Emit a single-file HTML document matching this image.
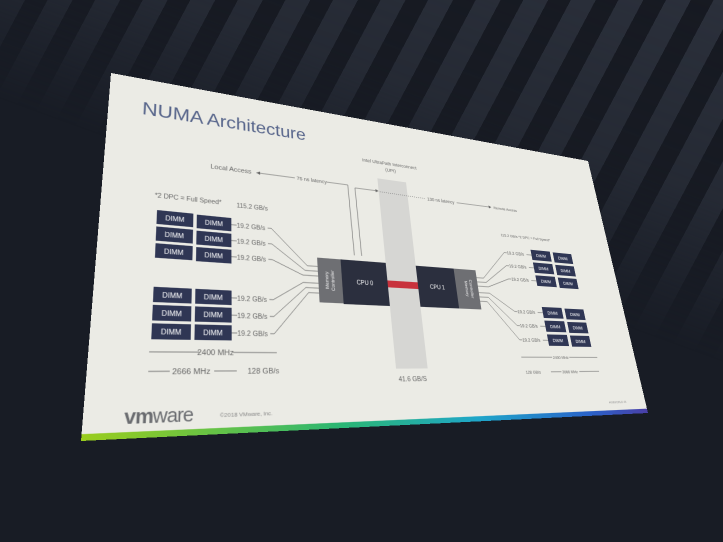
<!DOCTYPE html>
<html><head><meta charset="utf-8">
<style>
html,body{margin:0;padding:0;width:723px;height:542px;overflow:hidden;}
body{background:#181c25;position:relative;font-family:"Liberation Sans",sans-serif;}
#bg{position:absolute;left:0;top:0;width:723px;height:542px;
background:repeating-linear-gradient(118deg,#2b303b 0px,#2b303b 22px,#171a22 22px,#171a22 42px);
-webkit-mask-image:linear-gradient(200deg,#000 0%,rgba(0,0,0,0.7) 25%,rgba(0,0,0,0) 45%);
mask-image:linear-gradient(200deg,#000 0%,rgba(0,0,0,0.7) 25%,rgba(0,0,0,0) 45%);}
#slide{position:absolute;left:0;top:0;width:960px;height:540px;transform-origin:0 0;
transform:matrix3d(0.764865,0.165042,0,0.00045577,-0.086315,0.514037,0,-0.00037969,0,0,1,0,111,73,0,1);
background:#ebebe5;}
svg text{font-family:"Liberation Sans",sans-serif;}
</style></head><body>
<div id="bg"></div>
<div id="slide">
<svg width="960" height="540" viewBox="0 0 960 540" xmlns="http://www.w3.org/2000/svg">
<defs>
<linearGradient id="g" x1="0" x2="1" y1="0" y2="0">
<stop offset="0" stop-color="#9acd1e"/><stop offset="0.35" stop-color="#2bb673"/>
<stop offset="0.6" stop-color="#1fa6c9"/><stop offset="0.85" stop-color="#2a62c9"/><stop offset="1" stop-color="#4a3fa8"/>
</linearGradient>
</defs>
<text x="47" y="64" font-size="31" fill="#56648a">NUMA Architecture</text>
<rect x="438" y="118" width="57" height="336" fill="#d6d6d3"/>
<text x="466" y="88" font-size="9" fill="#666" text-anchor="middle">Intel UltraPath Interconnect</text>
<text x="466" y="101" font-size="9" fill="#666" text-anchor="middle">(UPI)</text>
<text x="466" y="474" font-size="11" fill="#666" text-anchor="middle">41.6 GB/S</text>
<text x="150" y="142" font-size="11" fill="#666">Local Access</text>
<line x1="222" y1="139" x2="286" y2="139" stroke="#666" stroke-width="1"/>
<path d="M222 139 l6 -3 v6 z" fill="#666"/>
<text x="289" y="142" font-size="9" fill="#666">75 ns latency</text>
<polyline points="342,139 380,139 382,268" fill="none" stroke="#666" stroke-width="1"/>
<polyline points="395,268 393,143 436,143" fill="none" stroke="#666" stroke-width="1"/>
<path d="M438 143 l-6 -3 v6 z" fill="#666"/>
<line x1="440" y1="144" x2="532" y2="146" stroke="#777" stroke-width="1" stroke-dasharray="2,2"/>
<text x="535" y="149" font-size="9" fill="#666">130 ns latency</text>
<line x1="598" y1="146" x2="672" y2="146" stroke="#666"/>
<path d="M676 146 l-6 -3 v6 z" fill="#666"/>
<text x="681" y="149" font-size="8" fill="#666">Remote Access</text>
<text x="71" y="202" font-size="10" fill="#666">*2 DPC = Full Speed*</text>
<text x="190" y="204" font-size="10" fill="#666">115.2 GB/s</text>
<text x="687" y="205" font-size="8" fill="#666">115.2 GB/s  *2 DPC = Full Speed*</text>
<rect x="317" y="277" width="40" height="74" fill="#6e6f73"/>
<text transform="translate(334,314) rotate(-90)" font-size="8" fill="#fff" text-anchor="middle">Memory</text>
<text transform="translate(344,314) rotate(-90)" font-size="8" fill="#fff" text-anchor="middle">Controller</text>
<rect x="357" y="277" width="81" height="75" fill="#2b2f3e"/>
<text x="397" y="318" font-size="10" fill="#fff" text-anchor="middle">CPU 0</text>
<rect x="438" y="308" width="57" height="12" fill="#c8323c"/>
<rect x="495" y="278" width="76" height="73" fill="#2b2f3e"/>
<text x="533" y="318" font-size="10" fill="#fff" text-anchor="middle">CPU 1</text>
<rect x="571" y="278" width="46" height="73" fill="#6e6f73"/>
<text transform="translate(590,314) rotate(90)" font-size="8" fill="#fff" text-anchor="middle">Memory</text>
<text transform="translate(600,314) rotate(90)" font-size="8" fill="#fff" text-anchor="middle">Controller</text>
<g fill="#2f3654">
<rect x="75" y="222" width="51" height="22"/><rect x="131" y="223" width="51" height="22"/>
<rect x="75" y="248" width="51" height="22"/><rect x="131" y="249" width="51" height="22"/>
<rect x="75" y="274" width="51" height="22"/><rect x="131" y="275" width="51" height="22"/>
<rect x="75" y="339" width="51" height="22"/><rect x="131" y="339" width="51" height="22"/>
<rect x="75" y="365" width="51" height="22"/><rect x="131" y="365" width="51" height="22"/>
<rect x="75" y="391" width="51" height="22"/><rect x="131" y="391" width="51" height="22"/>
</g>
<g fill="#fff" font-size="10" text-anchor="middle">
<text x="100" y="237">DIMM</text><text x="156" y="238">DIMM</text>
<text x="100" y="263">DIMM</text><text x="156" y="264">DIMM</text>
<text x="100" y="289">DIMM</text><text x="156" y="290">DIMM</text>
<text x="100" y="354">DIMM</text><text x="156" y="354">DIMM</text>
<text x="100" y="380">DIMM</text><text x="156" y="380">DIMM</text>
<text x="100" y="406">DIMM</text><text x="156" y="406">DIMM</text>
</g>
<g fill="#666" font-size="10">
<text x="190" y="238">19.2 GB/s</text><text x="190" y="264">19.2 GB/s</text><text x="190" y="290">19.2 GB/s</text>
<text x="190" y="354">19.2 GB/s</text><text x="190" y="380">19.2 GB/s</text><text x="190" y="406">19.2 GB/s</text>
</g>
<g stroke="#666" stroke-width="1" fill="none">
<line x1="182" y1="234" x2="190" y2="234"/><line x1="182" y1="260" x2="190" y2="260"/><line x1="182" y1="286" x2="190" y2="286"/>
<line x1="182" y1="350" x2="190" y2="350"/><line x1="182" y1="376" x2="190" y2="376"/><line x1="182" y1="402" x2="190" y2="402"/>
<polyline points="238,234 244,234 300,292 317,292"/>
<polyline points="238,260 244,260 296,300 317,300"/>
<polyline points="238,286 244,286 292,308 317,308"/>
<polyline points="238,350 244,350 292,320 317,320"/>
<polyline points="238,376 244,376 296,328 317,328"/>
<polyline points="238,402 244,402 300,336 317,336"/>
</g>
<g fill="#2f3654">
<rect x="752" y="227" width="47" height="21"/><rect x="806" y="228" width="47" height="21"/>
<rect x="752" y="253" width="47" height="21"/><rect x="806" y="254" width="47" height="21"/>
<rect x="752" y="279" width="47" height="21"/><rect x="806" y="280" width="47" height="21"/>
<rect x="753" y="341" width="47" height="21"/><rect x="807" y="342" width="47" height="21"/>
<rect x="753" y="367" width="47" height="21"/><rect x="807" y="368" width="47" height="21"/>
<rect x="753" y="393" width="47" height="21"/><rect x="807" y="394" width="47" height="21"/>
</g>
<g fill="#fff" font-size="9" text-anchor="middle">
<text x="775" y="241">DIMM</text><text x="829" y="242">DIMM</text>
<text x="775" y="267">DIMM</text><text x="829" y="268">DIMM</text>
<text x="775" y="293">DIMM</text><text x="829" y="294">DIMM</text>
<text x="776" y="355">DIMM</text><text x="830" y="356">DIMM</text>
<text x="776" y="381">DIMM</text><text x="830" y="382">DIMM</text>
<text x="776" y="407">DIMM</text><text x="830" y="408">DIMM</text>
</g>
<g fill="#666" font-size="9">
<text x="694" y="241">19.2 GB/s</text><text x="694" y="267">19.2 GB/s</text><text x="694" y="293">19.2 GB/s</text>
<text x="695" y="355">19.2 GB/s</text><text x="695" y="381">19.2 GB/s</text><text x="695" y="407">19.2 GB/s</text>
</g>
<g stroke="#666" stroke-width="1" fill="none">
<line x1="740" y1="238" x2="752" y2="238"/><line x1="740" y1="264" x2="752" y2="264"/><line x1="740" y1="290" x2="752" y2="290"/>
<line x1="741" y1="352" x2="753" y2="352"/><line x1="741" y1="378" x2="753" y2="378"/><line x1="741" y1="404" x2="753" y2="404"/>
<polyline points="617,292 632,292 688,238 694,238"/>
<polyline points="617,300 636,300 688,264 694,264"/>
<polyline points="617,308 640,308 688,290 694,290"/>
<polyline points="617,320 640,320 689,352 695,352"/>
<polyline points="617,328 636,328 689,378 695,378"/>
<polyline points="617,336 632,336 689,404 695,404"/>
</g>
<line x1="73" y1="430" x2="138" y2="430" stroke="#666"/>
<text x="160" y="434" font-size="11" fill="#666" text-anchor="middle">2400 MHz</text>
<line x1="184" y1="430" x2="247" y2="430" stroke="#666"/>
<line x1="73" y1="456" x2="100" y2="456" stroke="#666"/>
<text x="103" y="460" font-size="11" fill="#666">2666 MHz</text>
<line x1="158" y1="456" x2="189" y2="456" stroke="#666"/>
<text x="204" y="460" font-size="11" fill="#666">128 GB/s</text>
<line x1="686" y1="435" x2="755" y2="435" stroke="#666"/>
<text x="775" y="438" font-size="8" fill="#666" text-anchor="middle">2400 MHz</text>
<line x1="795" y1="435" x2="863" y2="435" stroke="#666"/>
<text x="690" y="464" font-size="8" fill="#666">128 GB/s</text>
<line x1="746" y1="461" x2="770" y2="461" stroke="#666"/>
<text x="772" y="464" font-size="8" fill="#666">2666 MHz</text>
<line x1="812" y1="461" x2="860" y2="461" stroke="#666"/>
<text x="47" y="522" font-size="25" fill="#6a6c70" font-weight="bold" letter-spacing="-1">vm<tspan font-weight="normal">ware</tspan></text>
<text x="166" y="518" font-size="8" fill="#888">©2018 VMware, Inc.</text>
<text x="868" y="520" font-size="6" fill="#999">#VMWORLD  46</text>
<rect x="0" y="532" width="960" height="8" fill="url(#g)"/>
</svg>
</div>
</body></html>
